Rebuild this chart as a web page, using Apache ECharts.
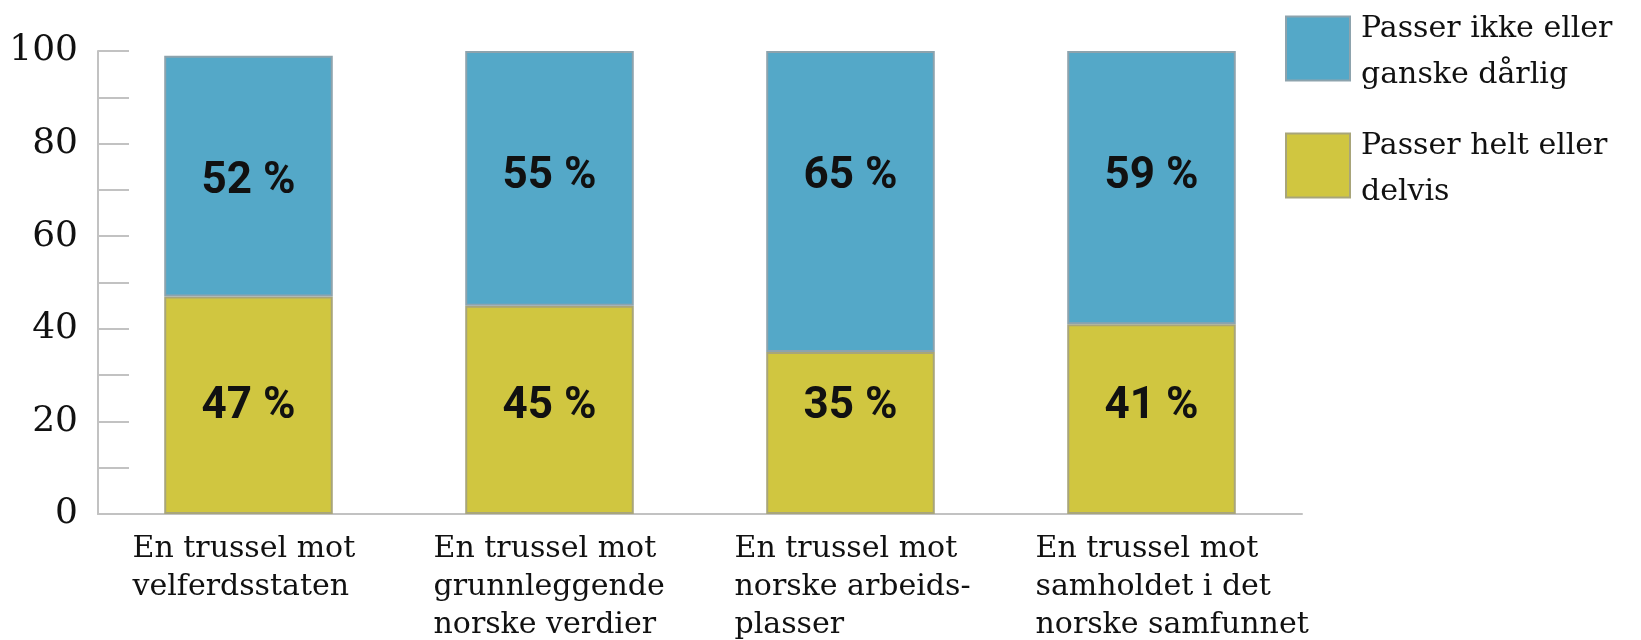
<!DOCTYPE html>
<html><head><meta charset="utf-8">
<script src="https://cdn.jsdelivr.net/npm/echarts@6/dist/echarts.min.js"></script>
<style>html,body{margin:0;padding:0;background:#fff}#c{width:1641px;height:640px}</style>
</head><body><div id="c"></div>
<script>
const categories = [
  "En trussel mot\nvelferdsstaten",
  "En trussel mot\ngrunnleggende\nnorske verdier",
  "En trussel mot\nnorske arbeids-\nplasser",
  "En trussel mot\nsamholdet i det\nnorske samfunnet"
];
const seriesNames = ["Passer helt eller\ndelvis", "Passer ikke eller\nganske dårlig"];
const passerHelt = [47, 45, 35, 41];
const passerIkke = [52, 55, 65, 59];
const yTicks = [0, 20, 40, 60, 80, 100];

const FONT = "'DejaVu Serif', serif";
const VFONT = "Roboto, 'Noto Sans', sans-serif";
const chart = echarts.init(document.getElementById('c'), null, {renderer: 'canvas'});
const baseLabel = {
  show: true, formatter: '{c} %', align: 'center', verticalAlign: 'middle',
  fontFamily: VFONT, fontWeight: 'bold', fontSize: 44, color: '#111'
};
chart.setOption({
  animation: false,
  legend: {
    orient: 'vertical', left: 1280, top: -6,
    itemWidth: 64, itemHeight: 64, itemGap: 26,
    icon: 'rect',
    data: [seriesNames[1], seriesNames[0]],
    formatter: name => '{s|}\n{t|' + name.split('\n').join('}\n{t|') + '}',
    textStyle: {
      padding: [0,0,0,6],
      rich: {
        s: {height: 7, lineHeight: 7, fontSize: 7},
        t: {fontFamily: FONT, fontSize: 30, lineHeight: 46, color: '#111'}
      }
    }
  },
  grid: {left: 98, right: 339, top: 51, bottom: 125, containLabel: false},
  xAxis: {
    type: 'category', data: categories,
    axisLine: {lineStyle: {color: '#c2c2c2', width: 2}},
    axisTick: {inside: true, length: 12, lineStyle: {color: '#c2c2c2', width: 2}},
    axisLabel: {
      interval: 0, margin: 16,
      formatter: v => '{a|' + v.split('\n').join('}\n{a|') + '}',
      rich: {a: {width: 232, align: 'left', fontFamily: FONT, fontSize: 30, lineHeight: 38, color: '#111'}}
    }
  },
  yAxis: {
    type: 'value', min: 0, max: 100, interval: 10,
    splitLine: {show: false},
    axisLine: {show: true, lineStyle: {color: '#c2c2c2', width: 2}},
    axisTick: {show: true, inside: true, length: 31, lineStyle: {color: '#c2c2c2', width: 2}},
    axisLabel: {
      margin: 20, fontFamily: FONT, fontSize: 36, color: '#111',
      formatter: v => yTicks.includes(v) ? String(v) : ''
    }
  },
  series: [
    {name: seriesNames[0], type: 'bar', stack: 's', barWidth: '56%', data: passerHelt,
     itemStyle: {color: '#D0C640', borderColor: '#a8a57a', borderWidth: 2},
     label: Object.assign({}, baseLabel, {position: ['50%', '100%'], offset: [0, -107]})},
    {name: seriesNames[1], type: 'bar', stack: 's', barWidth: '56%', data: passerIkke,
     itemStyle: {color: '#54A8C8', borderColor: '#8da3ad', borderWidth: 2},
     label: Object.assign({}, baseLabel, {position: ['50%', 0], offset: [0, 126]})}
  ]
});
</script></body></html>
